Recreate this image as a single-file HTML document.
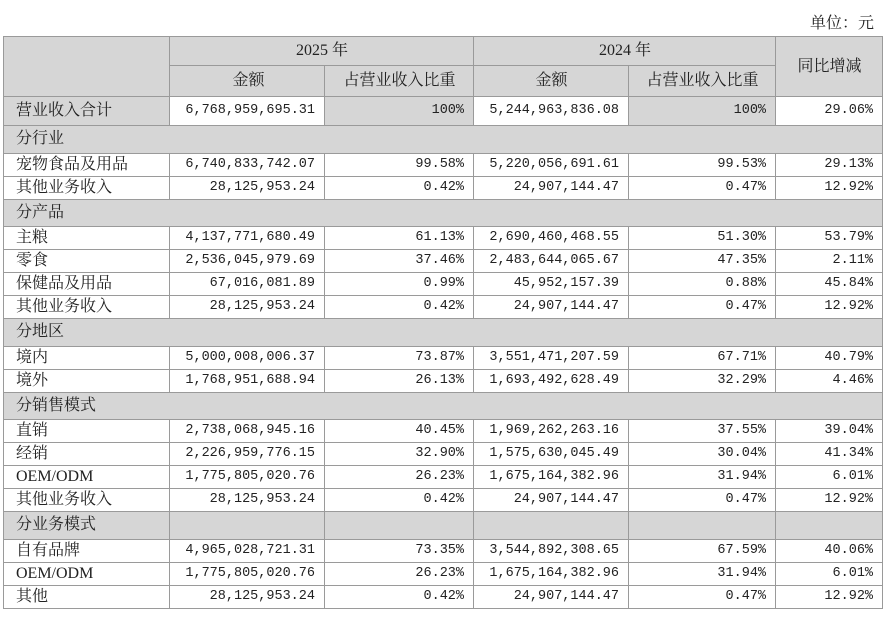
<!DOCTYPE html>
<html><head><meta charset="utf-8"><style>
body{margin:0;background:#fff;width:887px;height:624px;position:relative;font-family:"Liberation Serif","Noto Serif CJK SC",serif;color:#222}
.unit{position:absolute;right:13px;top:10px;font-size:16px}
table{position:absolute;left:3px;top:36px;border-collapse:collapse;table-layout:fixed;width:879px}
td{border:1px solid #9a9a9a;padding:0 9px 0 10px;font-size:16px;white-space:nowrap;overflow:hidden;height:22px;line-height:20px}
td:first-child{padding-left:12px}
.g{background:#d6d6d6}
.c{text-align:center}
.n{text-align:right;font-family:"Liberation Mono",monospace;font-size:13.5px}
.s td{height:26.5px}
.h1 td{height:28px}.h2 td{height:30px}.t td{height:28px}
</style></head><body>
<div class="unit">单位：元</div>
<table>
<colgroup><col style="width:166px"><col style="width:155px"><col style="width:149px"><col style="width:155px"><col style="width:147px"><col style="width:107px"></colgroup>
<tr class="h1"><td class="g" rowspan="2"></td><td class="g c" colspan="2">2025 年</td><td class="g c" colspan="2">2024 年</td><td class="g c" rowspan="2">同比增减</td></tr>
<tr class="h2"><td class="g c">金额</td><td class="g c">占营业收入比重</td><td class="g c">金额</td><td class="g c">占营业收入比重</td></tr>
<tr class="t"><td class="g">营业收入合计</td><td class="n">6,768,959,695.31</td><td class="g n">100%</td><td class="n">5,244,963,836.08</td><td class="g n">100%</td><td class="n">29.06%</td></tr>
<tr class="s"><td class="g" colspan="6">分行业</td></tr>
<tr><td>宠物食品及用品</td><td class="n">6,740,833,742.07</td><td class="n">99.58%</td><td class="n">5,220,056,691.61</td><td class="n">99.53%</td><td class="n">29.13%</td></tr>
<tr><td>其他业务收入</td><td class="n">28,125,953.24</td><td class="n">0.42%</td><td class="n">24,907,144.47</td><td class="n">0.47%</td><td class="n">12.92%</td></tr>
<tr class="s"><td class="g" colspan="6">分产品</td></tr>
<tr><td>主粮</td><td class="n">4,137,771,680.49</td><td class="n">61.13%</td><td class="n">2,690,460,468.55</td><td class="n">51.30%</td><td class="n">53.79%</td></tr>
<tr><td>零食</td><td class="n">2,536,045,979.69</td><td class="n">37.46%</td><td class="n">2,483,644,065.67</td><td class="n">47.35%</td><td class="n">2.11%</td></tr>
<tr><td>保健品及用品</td><td class="n">67,016,081.89</td><td class="n">0.99%</td><td class="n">45,952,157.39</td><td class="n">0.88%</td><td class="n">45.84%</td></tr>
<tr><td>其他业务收入</td><td class="n">28,125,953.24</td><td class="n">0.42%</td><td class="n">24,907,144.47</td><td class="n">0.47%</td><td class="n">12.92%</td></tr>
<tr class="s"><td class="g" colspan="6">分地区</td></tr>
<tr><td>境内</td><td class="n">5,000,008,006.37</td><td class="n">73.87%</td><td class="n">3,551,471,207.59</td><td class="n">67.71%</td><td class="n">40.79%</td></tr>
<tr><td>境外</td><td class="n">1,768,951,688.94</td><td class="n">26.13%</td><td class="n">1,693,492,628.49</td><td class="n">32.29%</td><td class="n">4.46%</td></tr>
<tr class="s"><td class="g" colspan="6">分销售模式</td></tr>
<tr><td>直销</td><td class="n">2,738,068,945.16</td><td class="n">40.45%</td><td class="n">1,969,262,263.16</td><td class="n">37.55%</td><td class="n">39.04%</td></tr>
<tr><td>经销</td><td class="n">2,226,959,776.15</td><td class="n">32.90%</td><td class="n">1,575,630,045.49</td><td class="n">30.04%</td><td class="n">41.34%</td></tr>
<tr><td>OEM/ODM</td><td class="n">1,775,805,020.76</td><td class="n">26.23%</td><td class="n">1,675,164,382.96</td><td class="n">31.94%</td><td class="n">6.01%</td></tr>
<tr><td>其他业务收入</td><td class="n">28,125,953.24</td><td class="n">0.42%</td><td class="n">24,907,144.47</td><td class="n">0.47%</td><td class="n">12.92%</td></tr>
<tr class="s"><td class="g">分业务模式</td><td class="g"></td><td class="g"></td><td class="g"></td><td class="g"></td><td class="g"></td></tr>
<tr><td>自有品牌</td><td class="n">4,965,028,721.31</td><td class="n">73.35%</td><td class="n">3,544,892,308.65</td><td class="n">67.59%</td><td class="n">40.06%</td></tr>
<tr><td>OEM/ODM</td><td class="n">1,775,805,020.76</td><td class="n">26.23%</td><td class="n">1,675,164,382.96</td><td class="n">31.94%</td><td class="n">6.01%</td></tr>
<tr><td>其他</td><td class="n">28,125,953.24</td><td class="n">0.42%</td><td class="n">24,907,144.47</td><td class="n">0.47%</td><td class="n">12.92%</td></tr>
</table>
</body></html>
